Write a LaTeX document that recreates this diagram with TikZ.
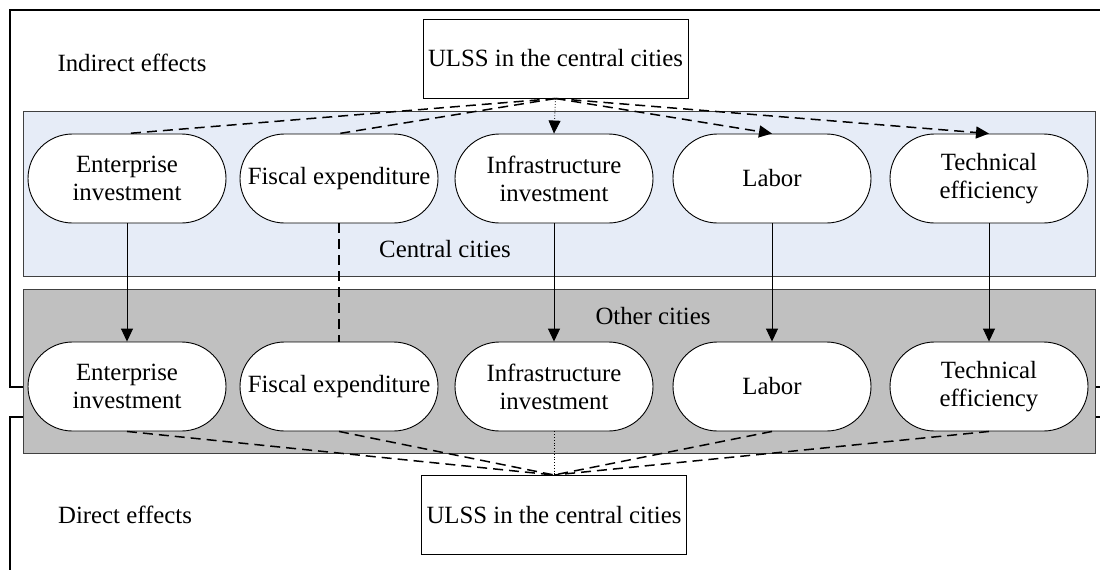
\documentclass[tikz,border=0pt]{standalone}
\usepackage{fontspec}
\setmainfont{Liberation Serif}
\usetikzlibrary{arrows.meta}
\definecolor{cblue}{HTML}{E6ECF7}
\definecolor{cgray}{HTML}{C0C0C0}
\definecolor{cedge}{HTML}{404040}
\begin{document}
\begin{tikzpicture}[x=1pt,y=-1pt,
  every node/.style={font=\fontsize{24.8}{28}\selectfont},
  ovalbox/.style={draw=black, line width=0.9pt, fill=white, minimum width=198pt, minimum height=89pt, rounded corners=44.5pt, align=center, inner sep=0pt},
  ulss/.style={draw=black, line width=1pt, fill=white, minimum width=265pt, minimum height=79pt, inner sep=0pt},
  region/.style={draw=cedge, line width=1pt},
  frame/.style={draw=black, line width=1.6pt},
  dsh/.style={line width=1.5pt, dash pattern=on 10pt off 6pt},
  dsharr/.style={dsh, -{Triangle[length=13pt,width=12pt]}},
  dotl/.style={line width=0.8pt, dotted},
  dotarr/.style={dotl, -{Triangle[length=13pt,width=12pt]}},
  arr/.style={line width=0.9pt, -{Triangle[length=13pt,width=12pt]}},
  dshline/.style={line width=1.2pt, dash pattern=on 10pt off 6pt}
]
\clip (0,0) rectangle (1100,570);
\useasboundingbox (0,0) rectangle (1100,570);
% outer frames
\draw[frame] (23,387) -- (10,387) -- (10,10) -- (1110,10);
\draw[frame] (1095,387) -- (1110,387);
\draw[frame] (23,417) -- (10,417) -- (10,580);
\draw[frame] (1095,417) -- (1110,417);
% regions
\draw[region, fill=cblue] (23,111) rectangle (1095,276);
\draw[region, fill=cgray] (23,289) rectangle (1095,453);
\node (central) at (445,249) {Central cities};
\node (other) at (653,316) {Other cities};
\node (ind) at (132,63) {Indirect effects};
\node (dir) at (125,515) {Direct effects};
% ULSS boxes
\node[ulss] (utop) at (555.5,58.5) {ULSS in the central cities};
\node[ulss] (ubot) at (554,515) {ULSS in the central cities};
% top row
\node[ovalbox] (e1) at (127,178.5) {Enterprise\\investment};
\node[ovalbox] (f1) at (339,178.5) {Fiscal expenditure};
\node[ovalbox] (i1) at (554,178.5) {Infrastructure\\investment};
\node[ovalbox] (l1) at (772,178.5) {Labor};
\node[ovalbox] (t1) at (989,178.5) {Technical\\efficiency};
% bottom row
\node[ovalbox] (e2) at (127,386.5) {Enterprise\\investment};
\node[ovalbox] (f2) at (339,386.5) {Fiscal expenditure};
\node[ovalbox] (i2) at (554,386.5) {Infrastructure\\investment};
\node[ovalbox] (l2) at (772,386.5) {Labor};
\node[ovalbox] (t2) at (989,386.5) {Technical\\efficiency};
% top connectors
\draw[dsh] (utop.south) -- (e1.north);
\draw[dsh] (utop.south) -- (f1.north);
\draw[dotarr] (utop.south) -- (i1.north);
\draw[dsharr] (utop.south) -- (l1.north);
\draw[dsharr] (utop.south) -- (t1.north);
% vertical connectors
\draw[arr] (e1.south) -- (e2.north);
\draw[dshline] (f1.south) -- (f2.north);
\draw[arr] (i1.south) -- (i2.north);
\draw[arr] (l1.south) -- (l2.north);
\draw[arr] (t1.south) -- (t2.north);
% bottom connectors
\draw[dsh] (e2.south) -- (ubot.north);
\draw[dsh] (f2.south) -- (ubot.north);
\draw[dotl] (i2.south) -- (ubot.north);
\draw[dsh] (l2.south) -- (ubot.north);
\draw[dsh] (t2.south) -- (ubot.north);
\end{tikzpicture}
\end{document}
